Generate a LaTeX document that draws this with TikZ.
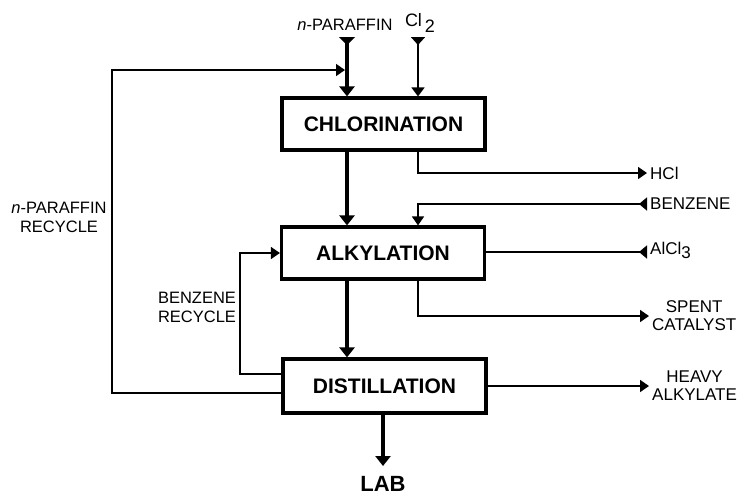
\documentclass[tikz,border=0pt]{standalone}
\usepackage{fontspec}
\setmainfont{Liberation Sans}
\usetikzlibrary{arrows.meta}
\begin{document}
\begin{tikzpicture}[x=1pt,y=-1pt,
  unit/.style={draw,line width=3.2pt,minimum width=203pt,minimum height=52pt,inner sep=0pt,
    font=\fontsize{21}{21}\selectfont\bfseries},
  lbl/.style={font=\fontsize{16.5}{19}\selectfont,inner sep=0pt,align=center},
  rlbl/.style={font=\fontsize{17}{18}\selectfont,inner xsep=3pt,inner ysep=0pt,align=center},
  heavyline/.style={line width=4pt},
  thinline/.style={line width=1.7pt},
  loopline/.style={line width=1.5pt},
  tipthin/.style={-{Triangle[width=12pt,length=9pt]}},
  tipheavy/.style={-{Triangle[width=15pt,length=10pt]}},
  tailthin/.style={{Triangle[reversed,width=13pt,length=8pt]}-},
  tailtip/.style={{Triangle[reversed,width=13pt,length=8pt]}-{Triangle[width=12pt,length=9pt]}},
]
\useasboundingbox (0,0) rectangle (749,496);

% units
\node[unit] (chl) at (383.5,124) {CHLORINATION};
\node[unit,minimum height=52pt] (alk) at (383,253) {ALKYLATION};
\node[unit,minimum height=54pt] (dist) at (384.5,386) {DISTILLATION};

% helper coordinates
\coordinate (xA) at (347,0);
\coordinate (xB) at (418,0);
\coordinate (pfeed) at (347,37);
\coordinate (clfeed) at (418,37);
\coordinate (rc) at (112,70);
\coordinate (rcj) at (345,70);
\coordinate (ry) at (0,393);
\coordinate (bc) at (240,253);
\coordinate (by) at (0,374);
\coordinate (labtop) at (383,466);

% labels
\node[lbl] (npt) at (345,25) {\textit{n}-PARAFFIN};
\node[lbl,font=\fontsize{18}{19}\selectfont] (cl2) at (420,23) {Cl\,\raisebox{-6pt}{2}};
\node[lbl] (npr) at (59,217) {\textit{n}-PARAFFIN\\RECYCLE};
\node[lbl] (bzr) at (197,307) {BENZENE\\RECYCLE};
\node[rlbl,anchor=west] (hcl) at (647,173) {HCl};
\node[rlbl,anchor=west] (benz) at (647,204) {BENZENE};
\node[rlbl,anchor=mid west] (alcl) at (647,252) {AlCl\raisebox{-4pt}{3}};
\node[rlbl,anchor=west] (spent) at (649,316) {SPENT\\CATALYST};
\node[rlbl,anchor=west] (heavy) at (649,386) {HEAVY\\ALKYLATE};
\node[font=\fontsize{22}{22}\selectfont\bfseries,inner sep=0pt] (lab) at (383,484) {LAB};

% feeds
\draw[heavyline,{Triangle[reversed,width=16pt,length=8pt]}-{Triangle[width=15pt,length=10pt]}]
  (pfeed) -- (xA |- chl.north);
\draw[thinline,{Triangle[reversed,width=14pt,length=8pt]}-{Triangle[width=13pt,length=9pt]}]
  (clfeed) -- (xB |- chl.north);

% main flow
\draw[heavyline,tipheavy] (xA |- chl.south) -- (xA |- alk.north);
\draw[heavyline,tipheavy] (xA |- alk.south) -- (xA |- dist.north);
\draw[heavyline,tipheavy] (labtop |- dist.south) -- (labtop);

% side streams
\draw[thinline,tipthin] (xB |- chl.south) |- (hcl.west);
\draw[thinline,tailtip] (benz.west) -| (xB |- alk.north);
\draw[thinline,tailthin] (alcl.mid west) -- (alk.east |- alcl.mid west);
\draw[thinline,tipthin] (xB |- alk.south) |- (spent.west);
\draw[thinline,tipthin] (dist.east) -- (dist.east -| heavy.west);

% recycles
\draw[loopline,tipthin] (dist.west |- ry) -| (rc) -- (rcj);
\draw[loopline,tipthin] (dist.west |- by) -| (bc) -- (alk.west |- bc);
\end{tikzpicture}
\end{document}
